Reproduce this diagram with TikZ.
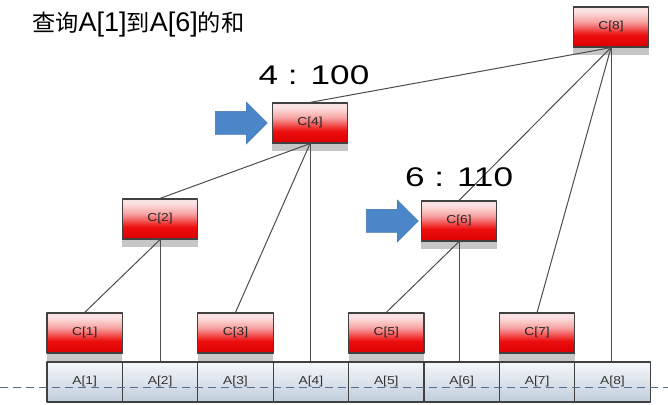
\documentclass[tikz,border=0pt]{standalone}
\usepackage{fontspec}
\setmainfont{Liberation Sans}
\newfontfamily\cjk[Scale=0.86]{Noto Sans CJK SC}
\newfontfamily\widefont[FakeStretch=1.3]{Liberation Sans}
\newfontfamily\boxfont[FakeStretch=1.2]{Liberation Sans}
\usetikzlibrary{positioning,shapes.arrows,shadows}

\definecolor{cbot}{RGB}{220,0,0}
\definecolor{cred}{RGB}{236,14,14}
\definecolor{cmid}{RGB}{242,85,85}
\definecolor{clight}{RGB}{247,165,165}
\definecolor{ctop}{RGB}{251,226,226}
\definecolor{atop}{RGB}{246,248,251}
\definecolor{abot}{RGB}{192,205,218}
\definecolor{arrowblue}{RGB}{74,134,200}
\definecolor{dashblue}{RGB}{80,110,140}
\pgfdeclareverticalshading{cshade}{100bp}{color(0bp)=(cbot); color(25bp)=(cbot);
  color(40bp)=(cred); color(48bp)=(cmid); color(57bp)=(clight); color(70bp)=(ctop);
  color(100bp)=(ctop)}

\begin{document}
\begin{tikzpicture}[x=1pt, y=-1pt, line join=round,
  cbox/.style={draw=black!75, line width=1.2pt, shading=cshade, inner sep=0pt,
    minimum width=75.4pt, minimum height=40pt, text=black!85,
    font=\boxfont\fontsize{11.5}{12}\selectfont,
    drop shadow={shadow xshift=0pt, shadow yshift=-8pt, fill=black!50, opacity=0.45}},
  abox/.style={draw=black!75, line width=1.2pt, top color=atop, bottom color=abot,
    inner sep=0pt, minimum width=75.4pt, minimum height=40pt, text=black!80,
    font=\boxfont\fontsize{11.5}{12}\selectfont},
  link/.style={draw=black!70, line width=1pt},
  pointer/.style={single arrow, fill=arrowblue, draw=arrowblue!85!black, line width=0.4pt,
    inner xsep=0pt, inner ysep=11.5pt, minimum height=52pt,
    single arrow head extend=9.5pt, single arrow tip angle=90},
  lbl/.style={font=\widefont\fontsize{27}{30}\selectfont, inner sep=0pt}]
\useasboundingbox (0,0) rectangle (668,404);

% array A
\foreach \i in {1,...,8}
  \node[abox] (a\i) at ({47+75.4*(\i-0.5)},382) {A[\i]};

% tree C
\foreach \i in {1,3,5,7}
  \node[cbox] (c\i) at ({47+75.4*(\i-0.5)},333) {C[\i]};
\node[cbox] (c2) at (160,219) {C[2]};
\node[cbox] (c4) at (310,123) {C[4]};
\node[cbox] (c6) at (459,221) {C[6]};
\node[cbox] (c8) at (611,27) {C[8]};

\draw[link] (c1.north) -- (c2.south);
\draw[link] (c2.north) -- (c4.south);
\draw[link] (c3.north) -- (c4.south);
\draw[link] (c5.north) -- (c6.south);
\draw[link] (c4.north) -- (c8.south);
\draw[link] (c6.north) -- (c8.south);
\draw[link] (c7.north) -- (c8.south);
\foreach \j in {2,4,6,8}
  \draw[link] (c\j.south) -- (c\j.south |- a\j.north);

% dashed guide
\coordinate (dl) at (0,387);
\coordinate (dr) at (668,387);
\draw[dashblue, line width=0.8pt, dash pattern=on 8pt off 5pt] (dl) -- (dr);

% pointers and labels
\node[pointer, left=4pt of c4] (p4) {};
\node[pointer, left=2pt of c6] (p6) {};
\node[lbl] (n4) at (314,75) {4 : 100};
\node[lbl] (n6) at (459,177) {6 : 110};

\node[anchor=west, inner sep=0pt, font=\fontsize{27}{30}\selectfont] (title) at (32,25)
  {{\cjk 查询}A[1]{\cjk 到}A[6]{\cjk 的和}};
\end{tikzpicture}
\end{document}
